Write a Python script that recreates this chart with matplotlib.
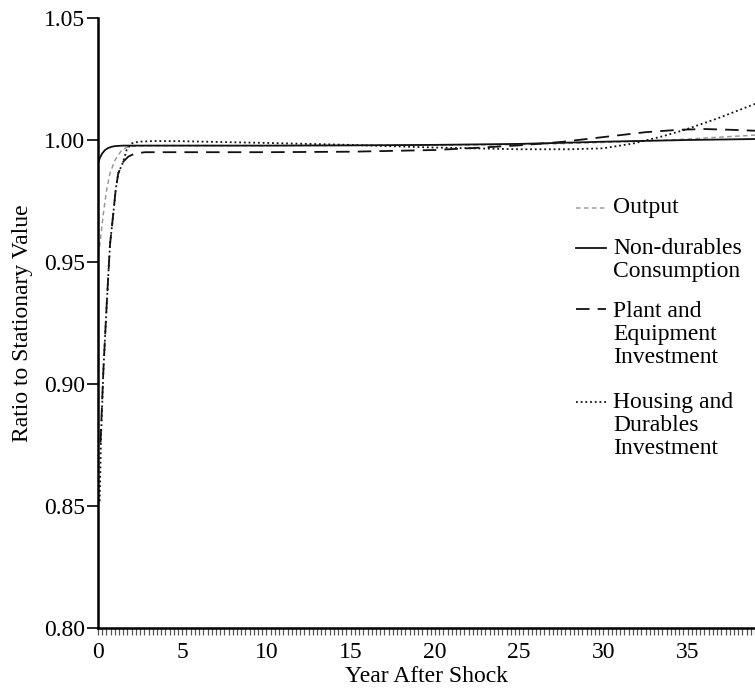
import matplotlib
matplotlib.use("Agg")
import matplotlib.pyplot as plt
from matplotlib.ticker import MultipleLocator, FormatStrFormatter

# ---- data ----
out_x = [0.0, 0.12, 0.32, 0.51, 0.71, 1.01, 1.41, 1.8, 2.5, 3, 5, 10, 15, 20, 25, 30, 34, 37, 39]
out_y = [0.953, 0.9577, 0.970, 0.9795, 0.9863, 0.9918, 0.9959, 0.9973, 0.9976, 0.9977, 0.9977,
         0.9977, 0.9978, 0.9979, 0.9981, 0.9990, 1.0000, 1.0012, 1.0020]

cons_x = [0.0, 0.1, 0.25, 0.42, 0.6, 0.8, 1.0, 1.5, 2, 3, 5, 10, 15, 20, 25, 30, 35, 39]
cons_y = [0.9905, 0.9925, 0.9945, 0.9959, 0.9967, 0.9972, 0.9975, 0.9977, 0.9977, 0.9977,
          0.9977, 0.9977, 0.9978, 0.9980, 0.9984, 0.9993, 1.0000, 1.0004]

plant_x = [0.15, 0.32, 0.51, 0.71, 0.91, 1.05, 1.2, 1.5, 1.8, 2.2, 2.8, 5, 10, 15, 20, 22.5,
           25, 27.5, 30, 32.5, 34.5, 36, 37.5, 39]
plant_y = [0.876, 0.9057, 0.9317, 0.957, 0.970, 0.9795, 0.9863, 0.9911, 0.9932, 0.9945, 0.9950,
           0.9950, 0.9950, 0.9952, 0.9959, 0.9968, 0.9978, 0.9992, 1.0012, 1.0032, 1.0042,
           1.0045, 1.0042, 1.0038]

house_x = [0.1, 0.18, 0.32, 0.51, 0.71, 0.91, 1.05, 1.2, 1.5, 1.7, 2.0, 2.4, 3.4, 5, 10, 15,
           20, 25, 28, 30, 31.8, 33.5, 34.8, 36.8, 39]
house_y = [0.852, 0.8784, 0.9057, 0.9317, 0.957, 0.970, 0.9795, 0.9863, 0.9911, 0.996, 0.9986,
           0.9993, 0.9996, 0.9995, 0.9988, 0.9980, 0.9969, 0.9962, 0.9962, 0.9966, 0.9986,
           1.0015, 1.0041, 1.0089, 1.0148]

labels = ["Output", "Non-durables\nConsumption", "Plant and\nEquipment\nInvestment",
          "Housing and\nDurables\nInvestment"]
x_ticks = [0, 5, 10, 15, 20, 25, 30, 35]
y_ticks = [0.80, 0.85, 0.90, 0.95, 1.00, 1.05]

plt.rcParams['font.family'] = ['Liberation Serif', 'DejaVu Serif']
plt.rcParams['font.size'] = 17

fig = plt.figure(figsize=(7.55, 6.92), dpi=100)
ax = fig.add_axes([98 / 755, 64 / 692, 657 / 755, 610 / 692])

styles = [
    dict(color="#9a9a9a", lw=1.1, dashes=(3.0, 2.2)),
    dict(color="#111111", lw=1.3, linestyle="-"),
    dict(color="#111111", lw=1.3, dashes=(7.5, 4.5)),
    dict(color="#111111", lw=1.3, dashes=(1.0, 1.6)),
]
series = [(out_x, out_y), (cons_x, cons_y), (plant_x, plant_y), (house_x, house_y)]
for (xs, ys), st in zip(series, styles):
    ax.plot(xs, ys, **st, clip_on=True)

ax.set_xlim(0, 39)
ax.set_ylim(0.80, 1.05)
ax.set_xticks(x_ticks)
ax.xaxis.set_minor_locator(MultipleLocator(0.25))
ax.set_yticks(y_ticks)
ax.yaxis.set_major_formatter(FormatStrFormatter('%.2f'))
ax.tick_params(axis='x', which='both', direction='out', length=5, width=0.9, color='#555555', pad=5)
ax.tick_params(axis='y', which='major', direction='out', length=8, width=1.2, pad=1)
for s in ['top', 'right']:
    ax.spines[s].set_visible(False)
for s in ['left', 'bottom']:
    ax.spines[s].set_linewidth(1.8)

ax.set_xlabel("Year After Shock", labelpad=2)
ax.set_ylabel("Ratio to Stationary Value", labelpad=8)

# manual legend (handles aligned with first text line)
handle_y = [208, 248, 309, 402]
text_y = [209, 250, 313, 404]
for (st, lab, hy, ty) in zip(styles, labels, handle_y, text_y):
    hf = (628 - hy) / 610
    tf = (628 - ty) / 610
    ax.plot([(576 - 98) / 657, (606 - 98) / 657], [hf, hf], transform=ax.transAxes, **st,
            clip_on=False)
    ax.text((613 - 98) / 657, tf + 12 / 610, lab, transform=ax.transAxes, va='top', ha='left',
            linespacing=1.13)

fig.savefig("out.png", dpi=100)
